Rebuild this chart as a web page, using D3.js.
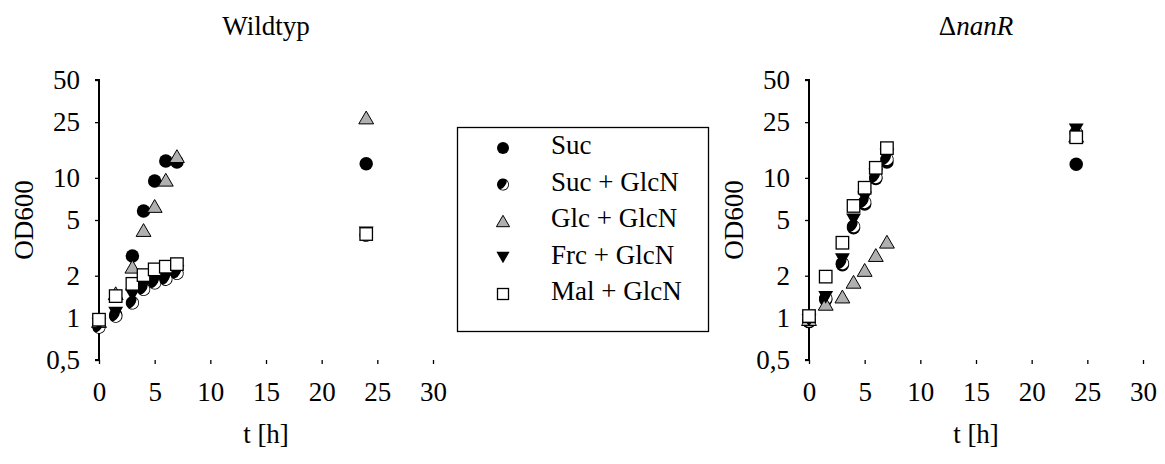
<!DOCTYPE html>
<html><head><meta charset="utf-8">
<script src="https://cdn.jsdelivr.net/npm/d3@7"></script>
<style>
body{margin:0;background:#fff;}
text{font-family:"Liberation Serif","DejaVu Serif",serif;fill:#000;}
</style></head>
<body><svg id="c" width="1165" height="464"></svg>
<script>
// ---- data ----
const times = [0, 1.5, 3, 4, 5, 6, 7, 24];
const seriesNames = ["Suc", "Suc + GlcN", "Glc + GlcN", "Frc + GlcN", "Mal + GlcN"];
// Wildtyp
const wtSuc     = [0.89, 1.05, 2.77, 5.8, 9.5, 13.2, 13.0, 12.6];
const wtSucGlcN = [0.86, 1.03, 1.28, 1.6, 1.78, 1.89, 2.08, 3.9];
const wtGlcGlcN = [0.95, 1.5, 2.32, 4.24, 6.3, 9.7, 14.3, 27];
const wtFrcGlcN = [0.9, 1.08, 1.45, 1.7, 1.85, 1.95, 2.15, 4.05];
const wtMalGlcN = [0.97, 1.43, 1.75, 2.02, 2.22, 2.32, 2.42, 3.97];
// delta nanR
const kmSuc     = [0.94, 1.35, 2.4, 4.4, 6.5, 9.9, 13.0, 12.5];
const kmSucGlcN = [0.95, 1.38, 2.45, 4.5, 6.7, 10.1, 13.6, 21];
const kmGlcGlcN = [0.98, 1.26, 1.42, 1.81, 2.2, 2.81, 3.5, 20];
const kmFrcGlcN = [0.96, 1.4, 2.6, 5.0, 7.2, 10.5, 14.5, 22];
const kmMalGlcN = [1.03, 1.97, 3.44, 6.3, 8.5, 11.8, 16.3, 19.5];
const xTicks = [0, 5, 10, 15, 20, 25, 30];
const yTicks = [0.5, 1, 2, 5, 10, 25, 50];

const svg = d3.select("#c");
const FS = 27;

function marker(g, type, x, y, s) {
  const r = s / 2;
  if (type === 0) {
    g.append("circle").attr("cx", x).attr("cy", y).attr("r", r).attr("fill", "#000");
  } else if (type === 1) {
    const gg = g.append("g").attr("transform", `translate(${x},${y}) rotate(35)`);
    gg.append("circle").attr("r", r).attr("fill", "#000");
    gg.append("path").attr("d", `M0,${-r + 0.8} A${r - 0.8},${r - 0.8} 0 0 1 0,${r - 0.8} A${(r - 0.8) * 0.45},${r - 0.8} 0 0 0 0,${-r + 0.8}Z`).attr("fill", "#fff");
  } else if (type === 2) {
    const h = s * 0.95, w = s * 1.1;
    g.append("path").attr("d", `M${x},${y - h / 2} L${x + w / 2},${y + h / 2} L${x - w / 2},${y + h / 2}Z`)
      .attr("fill", "#b0b0b0").attr("stroke", "#000").attr("stroke-width", 1);
  } else if (type === 3) {
    const h = s * 0.95, w = s * 1.1;
    g.append("path").attr("d", `M${x - w / 2},${y - h / 2} L${x + w / 2},${y - h / 2} L${x},${y + h / 2}Z`).attr("fill", "#000");
  } else {
    g.append("rect").attr("x", x - r + 0.5).attr("y", y - r + 0.5).attr("width", s - 1).attr("height", s - 1)
      .attr("fill", "#fff").attr("stroke", "#000").attr("stroke-width", 1.3);
  }
}

function panel(x0, title, italicPart, data) {
  const x = d3.scaleLinear().domain([0, 30]).range([x0, x0 + 334]);
  const y = d3.scaleLog().domain([0.5, 50]).range([360, 80]);
  const g = svg.append("g");
  // axes
  const ya = g.append("g").attr("transform", `translate(${x0},0)`)
    .call(d3.axisLeft(y).tickValues(yTicks).tickSize(4).tickPadding(15)
      .tickFormat(d => String(d).replace(".", ",")));
  const xa = g.append("g").attr("transform", `translate(0,360)`)
    .call(d3.axisBottom(x).tickValues(xTicks).tickSize(4).tickPadding(18));
  [ya, xa].forEach(a => {
    a.select(".domain").attr("stroke", "#000").attr("stroke-width", 2);
    a.selectAll(".tick line").attr("stroke", "#000").attr("stroke-width", 1.3);
    a.selectAll("text").attr("font-size", FS).attr("font-family", '"Liberation Serif",serif').attr("fill", "#000");
  });
  ya.select(".domain").attr("d", `M-4,80H0V360H-4`);
  xa.select(".domain").attr("d", `M${x0},364V360H${x0 + 334}V364`);
  // titles
  g.append("text").attr("x", x0 + 167).attr("y", 437).attr("text-anchor", "middle")
    .attr("dominant-baseline", "middle").attr("font-size", FS).text("t [h]");
  g.append("text").attr("transform", `translate(${x0 - 72},220) rotate(-90)`).attr("text-anchor", "middle")
    .attr("dominant-baseline", "middle").attr("font-size", FS).text("OD600");
  const t = g.append("text").attr("x", x0 + 167).attr("y", 29).attr("text-anchor", "middle")
    .attr("dominant-baseline", "middle").attr("font-size", FS);
  t.append("tspan").text(title);
  if (italicPart) t.append("tspan").attr("font-style", "italic").text(italicPart);
  // points
  const pg = g.append("g");
  data.forEach((vals, si) => {
    vals.forEach((v, i) => marker(pg, si, x(times[i]), y(v), 13.5));
  });
}

panel(99, "Wildtyp", "", [wtSuc, wtSucGlcN, wtGlcGlcN, wtFrcGlcN, wtMalGlcN]);
panel(809, "\u0394", "nanR", [kmSuc, kmSucGlcN, kmGlcGlcN, kmFrcGlcN, kmMalGlcN]);

// legend
const lg = svg.append("g");
lg.append("rect").attr("x", 457.5).attr("y", 127.5).attr("width", 251).attr("height", 204)
  .attr("fill", "#fff").attr("stroke", "#000").attr("stroke-width", 1.3);
seriesNames.forEach((n, i) => {
  const yy = 148 + i * 36.5;
  marker(lg, i, 503, yy, 12);
  lg.append("text").attr("x", 551).attr("y", yy).attr("dominant-baseline", "middle")
    .attr("font-size", FS).text(n);
});
</script></body></html>
